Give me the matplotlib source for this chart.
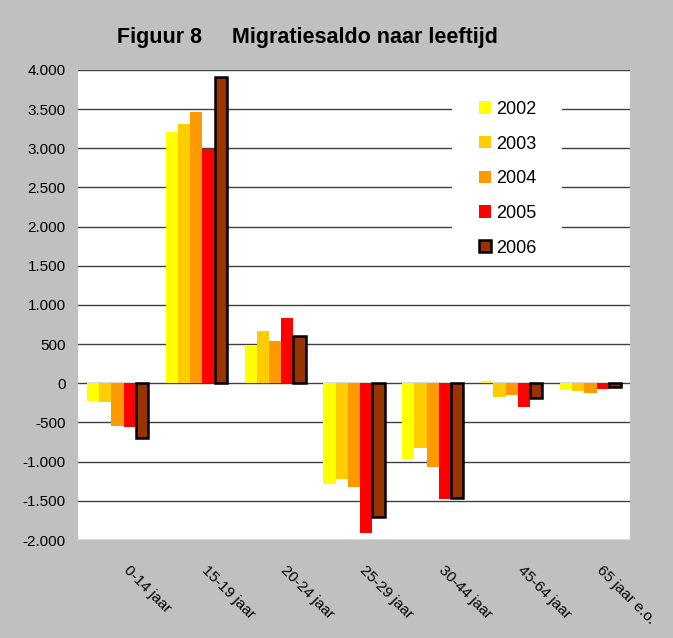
import matplotlib.pyplot as plt
import matplotlib.patches as mpatches
from matplotlib.transforms import ScaledTranslation
import numpy as np

plt.rcParams['font.family'] = ['Liberation Sans', 'DejaVu Sans']

categories = ['0-14 jaar', '15-19 jaar', '20-24 jaar', '25-29 jaar',
              '30-44 jaar', '45-64 jaar', '65 jaar e.o.']
years = ['2002', '2003', '2004', '2005', '2006']
v2002 = [-230, 3210, 490, -1290, -970, 25, -90]
v2003 = [-240, 3315, 665, -1225, -830, -175, -100]
v2004 = [-540, 3465, 545, -1320, -1065, -150, -125]
v2005 = [-560, 2990, 830, -1910, -1480, -300, -72]
v2006 = [-700, 3905, 610, -1710, -1470, -185, -42]
colors = ['#FFFF00', '#FFCC00', '#FF9900', '#FF0000', '#993300']

series = [v2002, v2003, v2004, v2005, v2006]

fig = plt.figure(figsize=(6.73, 6.38), dpi=100, facecolor='#C0C0C0')
ax = fig.add_axes([0.1159, 0.1536, 0.8201, 0.7367])
ax.set_facecolor('white')

x = np.arange(len(categories))
w = 0.155
for i, (vals, col, yr) in enumerate(zip(series, colors, years)):
    if yr == '2006':
        ax.bar(x + (i - 2) * w, vals, w, color=col, edgecolor='black',
               linewidth=1.8, label=yr, zorder=3)
    else:
        ax.bar(x + (i - 2) * w, vals, w, color=col, linewidth=0,
               label=yr, zorder=3)

ax.set_xlim(-0.5, len(categories) - 0.5)
ax.set_ylim(-2000, 4000)
yt = np.arange(-2000, 4001, 500)
ax.set_yticks(yt)
ax.set_yticklabels([f"{v:,}".replace(',', '.') for v in yt], fontsize=11)
ax.yaxis.grid(True, color='#404040', linewidth=1.0, zorder=1)
ax.set_axisbelow(True)
for s in ax.spines.values():
    s.set_visible(False)
ax.tick_params(axis='y', length=0, pad=9)

ax.set_xticks(x)
ax.set_xticklabels(categories, rotation=-45, ha='left', va='top',
                   rotation_mode='anchor', fontsize=11)
ax.tick_params(axis='x', length=0, pad=16.5)
shift = ScaledTranslation(13 / 100, 0, fig.dpi_scale_trans)
for lbl in ax.get_xticklabels():
    lbl.set_transform(lbl.get_transform() + shift)

fig.text(0.457, 0.942, 'Figuur 8     Migratiesaldo naar leeftijd',
         ha='center', va='center', fontsize=15.5, fontweight='bold')

# white box behind the legend (hides the gridlines there)
ax.add_patch(mpatches.Rectangle((0.6775, 0.6277), 0.1993, 0.351,
                                transform=ax.transAxes, facecolor='white',
                                edgecolor='none', zorder=2))

leg = ax.legend(loc='upper left', bbox_to_anchor=(0.70, 0.965), fontsize=13,
                frameon=False, handlelength=0.67, handleheight=0.67,
                handletextpad=0.3, labelspacing=0.98, borderpad=0.3)
leg.set_zorder(4)

fig.savefig('out.png', dpi=100, facecolor=fig.get_facecolor())
